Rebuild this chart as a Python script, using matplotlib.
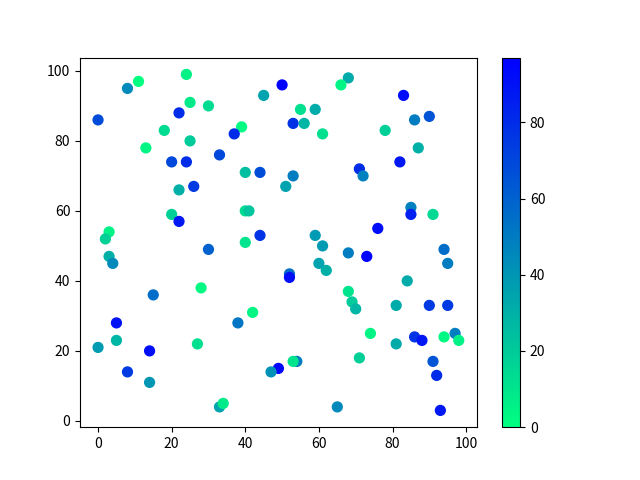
import matplotlib

matplotlib.use("Agg")
import matplotlib.pyplot as plt

plt.rcParams["font.family"] = ["Noto Sans CJK SC", "Noto Sans"]

# point positions and colour values
x = [0, 8, 11, 24, 50, 45, 22, 25, 30, 18, 39, 37, 13, 25, 20, 24, 33, 40, 44, 22,
     26, 20, 22, 40, 41, 3, 2, 44, 40, 30, 68, 66, 83, 55, 59, 53, 56, 61, 78, 86,
     90, 87, 82, 71, 72, 53, 51, 85, 85, 91, 76, 59, 61, 68, 94, 3, 4, 15, 28, 5,
     38, 42, 0, 5, 14, 27, 8, 14, 49, 47, 33, 34, 73, 95, 60, 62, 52, 52, 84, 68,
     69, 70, 81, 90, 95, 74, 81, 86, 88, 94, 97, 98, 71, 91, 92, 54, 53, 65, 93]
y = [86, 95, 97, 99, 96, 93, 88, 91, 90, 83, 84, 82, 78, 80, 74, 74, 76, 71, 71, 66,
     67, 59, 57, 60, 60, 54, 52, 53, 51, 49, 98, 96, 93, 89, 89, 85, 85, 82, 83, 86,
     87, 78, 74, 72, 70, 70, 67, 61, 59, 59, 55, 53, 50, 48, 49, 47, 45, 36, 38, 28,
     28, 31, 21, 23, 20, 22, 14, 11, 15, 14, 4, 5, 47, 45, 45, 43, 42, 41, 40, 37,
     34, 32, 33, 33, 33, 25, 22, 24, 23, 24, 25, 23, 18, 17, 13, 17, 17, 4, 3]
c = [68, 45, 0, 5, 97, 35, 80, 8, 14, 14, 2, 80, 4, 20, 70, 80, 70, 25, 68, 30,
     75, 18, 88, 14, 22, 5, 18, 78, 10, 60, 32, 4, 92, 12, 32, 78, 28, 12, 18, 50,
     65, 30, 88, 80, 48, 50, 35, 48, 85, 15, 92, 38, 38, 50, 55, 30, 45, 55, 3, 90,
     52, 4, 38, 28, 92, 12, 75, 40, 95, 42, 35, 8, 95, 50, 35, 30, 55, 92, 32, 10,
     20, 28, 32, 75, 75, 4, 32, 78, 88, 3, 50, 5, 18, 65, 80, 50, 10, 45, 88]

fig, ax = plt.subplots(figsize=(6.4, 4.8), dpi=100)
sc = ax.scatter(x, y, c=c, cmap="winter_r", s=50)
fig.colorbar(sc, ax=ax)

fig.savefig("out.png")
